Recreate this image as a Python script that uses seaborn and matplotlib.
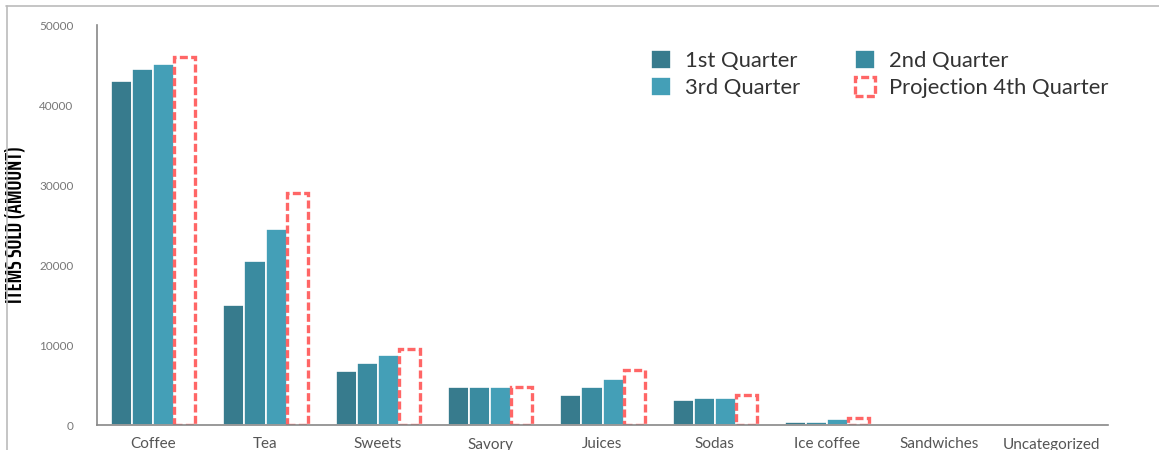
import pandas as pd
import matplotlib.pyplot as plt
import matplotlib.patches as mpatches
from matplotlib import font_manager
from matplotlib.lines import Line2D
import seaborn as sns

# Items sold per category and quarter
categories = ['Coffee', 'Tea', 'Sweets', 'Savory', 'Juices', 'Sodas',
              'Ice coffee', 'Sandwiches', 'Uncategorized']
q1 = [43000, 15000, 6750, 4750, 3750, 3100, 400, 0, 0]
q2 = [44500, 20500, 7750, 4750, 4750, 3400, 400, 0, 0]
q3 = [45100, 24500, 8750, 4750, 5750, 3400, 750, 0, 0]
q4_proj = [46000, 29000, 9500, 4800, 6900, 3800, 900, 0, 0]
series = ['1st Quarter', '2nd Quarter', '3rd Quarter', 'Projection 4th Quarter']
colors = ['#377b8d', '#3a8ba0', '#449fb7', '#ffffff']

rows = []
for name, vals in zip(series, [q1, q2, q3, q4_proj]):
    for cat, v in zip(categories, vals):
        rows.append({'category': cat, 'quarter': name, 'items': v})
df = pd.DataFrame(rows)

sns.set_style('white')
plt.rcParams['font.family'] = ['Lato', 'DejaVu Sans']

# look for a condensed bold face for the y label
cond = None
for f in font_manager.fontManager.ttflist:
    n = (f.name + ' ' + str(f.stretch) + ' ' + f.fname).lower()
    bold = f.weight in ('bold', 700, 800, 'heavy', 'extra bold', 900) or 'bold' in f.fname.lower()
    if bold and ('italic' not in f.fname.lower()) and ('condensed' in n or 'narrow' in n):
        if cond is None or 'extracondensed' in f.fname.lower().replace('-', '').replace('_', ''):
            cond = f.fname
if cond:
    ylab_font = font_manager.FontProperties(fname=cond, size=16.5)
else:
    ylab_font = font_manager.FontProperties(family='DejaVu Sans', weight='bold', size=9.5)

fig = plt.figure(figsize=(11.59, 4.5), dpi=100)
ax = fig.add_axes([97 / 1159, 25 / 450, (1108 - 97) / 1159, 400 / 450])

sns.barplot(data=df, x='category', y='items', hue='quarter', order=categories,
            hue_order=series, palette=colors, width=0.75, saturation=1,
            legend=False, ax=ax)

red = '#ff6666'
dash = (0, (2.4, 1.0))
for i, cont in enumerate(ax.containers):
    for bar in cont:
        if bar.get_height() == 0:
            bar.set_visible(False)
            continue
        if i == 3:
            bar.set_facecolor('white')
            bar.set_edgecolor(red)
            bar.set_linestyle(dash)
            bar.set_linewidth(2.4)
        else:
            bar.set_edgecolor('white')
            bar.set_linewidth(1.2)

ax.set_xlim(-0.5, len(categories) - 0.5)
ax.set_ylim(0, 50000)
ax.set_yticks([0, 10000, 20000, 30000, 40000, 50000])
ax.set_yticklabels(['0', '10000', '20000', '30000', '40000', '50000'])
ax.set_xticks([i + 0.5 for i in range(len(categories))], minor=True)

for s in ['top', 'right']:
    ax.spines[s].set_visible(False)
for s in ['left', 'bottom']:
    ax.spines[s].set_color('#888888')
    ax.spines[s].set_linewidth(1.2)

ax.tick_params(axis='x', which='major', length=0, pad=9, labelsize=11,
               labelcolor='#555555')
ax.tick_params(axis='x', which='minor', length=5, width=1.2, color='#888888',
               direction='out')
ax.tick_params(axis='y', length=5, width=1.2, color='#888888', direction='out',
               labelsize=8.5, labelcolor='#777777', pad=12)

ax.set_xlabel('')
ax.set_ylabel('ITEMS SOLD (AMOUNT)', fontproperties=ylab_font, color='black')
ax.yaxis.set_label_coords(-0.070, 0.5)

handles = [mpatches.Patch(facecolor=c, edgecolor='white', linewidth=1.2) for c in colors[:3]]
handles.append(mpatches.Patch(facecolor='white', edgecolor=red, linewidth=2.4,
                              linestyle=dash))
# column-wise fill: first column 1st/3rd, second column 2nd/projection
order = [0, 2, 1, 3]
leg = ax.legend([handles[k] for k in order], [series[k] for k in order], ncol=2,
                frameon=False, loc='upper right', bbox_to_anchor=(1.009, 0.96),
                borderaxespad=0, fontsize=15.8, handlelength=0.9,
                handleheight=1.0, handletextpad=0.65, columnspacing=2.5,
                labelspacing=0.25)
for t in leg.get_texts():
    t.set_color('#333333')

# outer frame lines
fig.add_artist(Line2D([6 / 1159, 1], [1 - 6 / 450, 1 - 6 / 450], color='#bbbbbb', lw=1.2))
fig.add_artist(Line2D([7 / 1159, 7 / 1159], [0, 1 - 6 / 450], color='#bbbbbb', lw=1.2))

fig.savefig('out.png', dpi=100)
